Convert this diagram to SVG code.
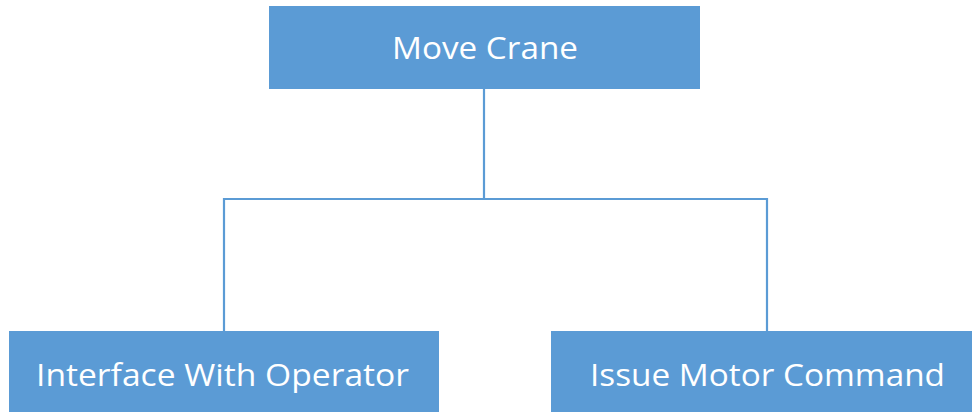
<svg xmlns="http://www.w3.org/2000/svg" width="972" height="412" viewBox="0 0 972 412">
<style>
.box{fill:#5B9BD5;}
.lbl{fill:#FFFFFF;font-family:"Open Sans","Noto Sans","Liberation Sans",sans-serif;font-size:31px;text-anchor:start;}
.conn{fill:none;stroke:#5B9BD5;stroke-width:2.2;}
</style>
<rect width="972" height="412" fill="#FFFFFF"/>
<g id="connectors">
<path class="conn" d="M484,89 V199 M224,199 H767 M224,198 V331 M767,198 V331"/>
</g>
<g id="move-crane">
<rect class="box" x="269" y="6" width="431" height="83"/>
<text class="lbl" x="392" y="59" textLength="186" lengthAdjust="spacingAndGlyphs">Move Crane</text>
</g>
<g id="interface-with-operator">
<rect class="box" x="9" y="331" width="430" height="81"/>
<text class="lbl" x="36" y="386" textLength="373" lengthAdjust="spacingAndGlyphs">Interface With Operator</text>
</g>
<g id="issue-motor-command">
<rect class="box" x="551" y="331" width="421" height="81"/>
<text class="lbl" x="590" y="386" textLength="355" lengthAdjust="spacingAndGlyphs">Issue Motor Command</text>
</g>
</svg>
